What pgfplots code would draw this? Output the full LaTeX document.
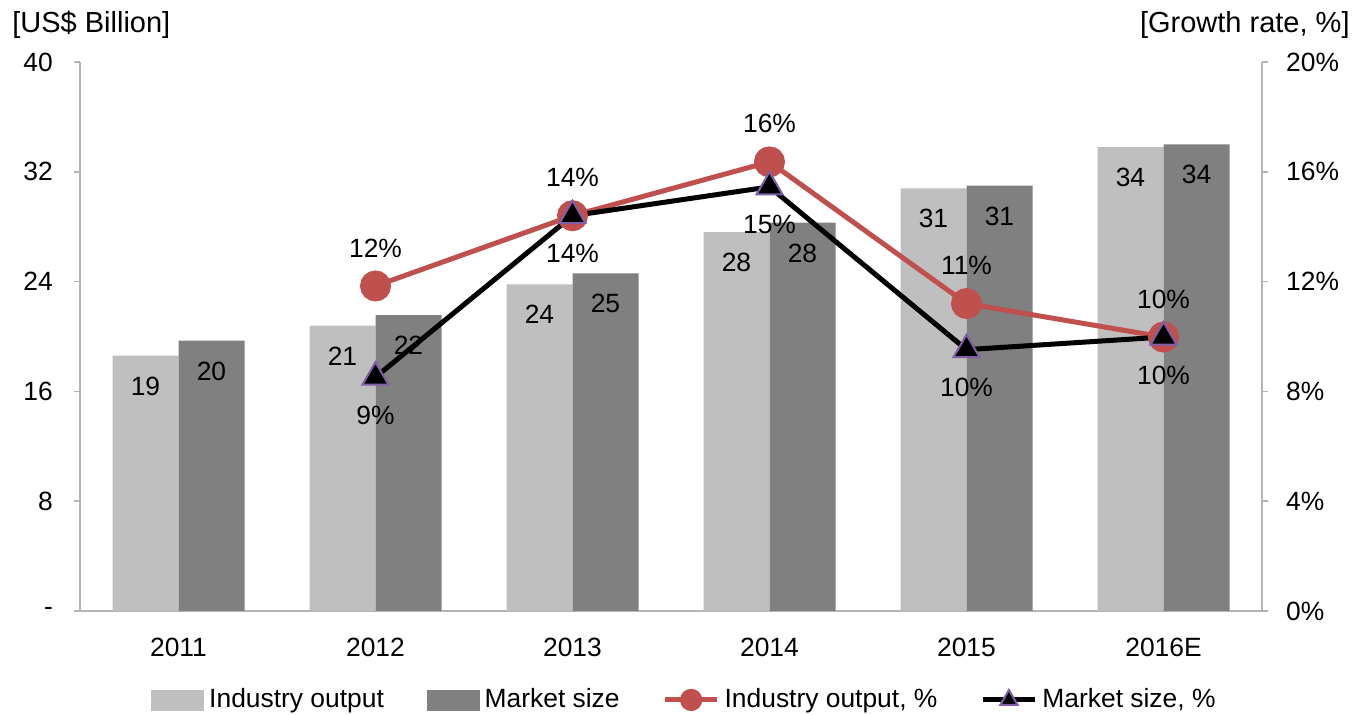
\documentclass[border=0pt]{standalone}
\usepackage{pgfplots}
\pgfplotsset{compat=1.18}
\usepackage{fontspec}
\setmainfont{Liberation Sans}
\pgfkeys{/pgf/number format/assume math mode=true}
\definecolor{lightbar}{HTML}{BFBFBF}
\definecolor{darkbar}{HTML}{808080}
\definecolor{redline}{HTML}{C0504D}
\definecolor{purpedge}{HTML}{7F5FA8}
\definecolor{axisgray}{HTML}{B4B4B4}
\pgfplotsset{
  redlegend/.style={legend image code/.code={\draw[mark repeat=2,mark phase=2,##1,mark size=4.3pt] plot coordinates {(0pt,0pt) (13pt,0pt) (26pt,0pt)};}},
  blacklegend/.style={legend image code/.code={\draw[mark repeat=2,mark phase=2,##1,mark size=5pt] plot coordinates {(0pt,0pt) (13pt,0pt) (26pt,0pt)};}},
  lightlegend/.style={legend image code/.code={\fill[lightbar] (0pt,-5pt) rectangle (26pt,5pt);}},
  darklegend/.style={legend image code/.code={\fill[darkbar] (0pt,-5pt) rectangle (26pt,5pt);}},
}
\begin{document}
\fontsize{13.2}{15.8}\selectfont
\begin{tikzpicture}
\path[use as bounding box] (0,0) rectangle (676.5pt,357.5pt);
\begin{axis}[
  at={(40pt,52pt)}, anchor=south west,
  scale only axis, width=591pt, height=274.5pt,
  xmin=-0.5, xmax=5.5, ymin=0, ymax=40,
  axis x line*=bottom, axis y line*=left,
  axis line style={draw=axisgray, line width=0.75pt},
  ybar=0pt, bar width=33pt,
  xtick={0,1,2,3,4,5},
  xticklabels={2011,2012,2013,2014,2015,2016E},
  x tick style={draw=none},
  xticklabel style={yshift=-6pt},
  ytick={0,8,16,24,32,40},
  yticklabels={-\hspace{8pt},8,16,24,32,40},
  y tick style={draw=axisgray, line width=0.75pt},
  yticklabel style={xshift=-6pt},
  tick align=outside, major tick length=3pt,
  clip=false,
  nodes near coords={\pgfmathprintnumber[fixed,precision=0,assume math mode=true]{\pgfplotspointmeta}},
  every node near coord/.append style={anchor=north, yshift=-6pt, text=black},
]
\addplot[fill=lightbar, draw=none] coordinates {(0,18.6) (1,20.8) (2,23.8) (3,27.6) (4,30.8) (5,33.8)};
\addplot[fill=darkbar, draw=none] coordinates {(0,19.7) (1,21.55) (2,24.6) (3,28.3) (4,31.0) (5,34.0)};
\node[anchor=base west, inner sep=0pt, xshift=-34pt, yshift=14.5pt, font=\fontsize{14.5}{17}\selectfont] at (rel axis cs:0,1) {[US\$ Billion]};
\end{axis}
\begin{axis}[
  at={(40pt,52pt)}, anchor=south west,
  scale only axis, width=591pt, height=274.5pt,
  xmin=-0.5, xmax=5.5, ymin=0, ymax=20,
  axis x line=none, axis y line*=right,
  axis line style={draw=axisgray, line width=0.75pt},
  ytick={0,4,8,12,16,20},
  yticklabels={0\%,4\%,8\%,12\%,16\%,20\%},
  y tick style={draw=axisgray, line width=0.75pt},
  yticklabel style={xshift=4.5pt},
  tick align=outside, major tick length=3pt,
  clip=false,
  legend style={at={(0.5127,-0.162)}, anchor=center, draw=none, fill=none,
    legend columns=4, /tikz/every even column/.append style={column sep=19pt},
    nodes={inner xsep=2.5pt}},
]
\addlegendimage{lightlegend}
\addlegendentry{Industry output}
\addlegendimage{darklegend}
\addlegendentry{Market size}
\addplot[redline, line width=2.5pt, mark=*, mark size=6.5pt, redlegend,
  nodes near coords={\pgfmathprintnumber[fixed,precision=0,assume math mode=true]{\pgfplotspointmeta}\%},
  every node near coord/.append style={anchor=center, yshift=19pt, text=black}]
  coordinates {(1,11.84) (2,14.4) (3,16.36) (4,11.2) (5,9.98)};
\addlegendentry{Industry output, \%}
\addplot[black, line width=2.5pt, mark=triangle*, mark size=7.5pt,
  mark options={fill=black, draw=purpedge, line width=1pt}, blacklegend,
  nodes near coords={\pgfmathprintnumber[fixed,precision=0,assume math mode=true]{\pgfplotspointmeta}\%},
  every node near coord/.append style={anchor=center, yshift=-19pt, text=black}]
  coordinates {(1,8.52) (2,14.4) (3,15.45) (4,9.52) (5,9.98)};
\addlegendentry{Market size, \%}
\node[anchor=base east, inner sep=0pt, xshift=44pt, yshift=14.5pt, font=\fontsize{14.5}{17}\selectfont] at (rel axis cs:1,1) {[Growth rate, \%]};
\end{axis}
\end{tikzpicture}
\end{document}
